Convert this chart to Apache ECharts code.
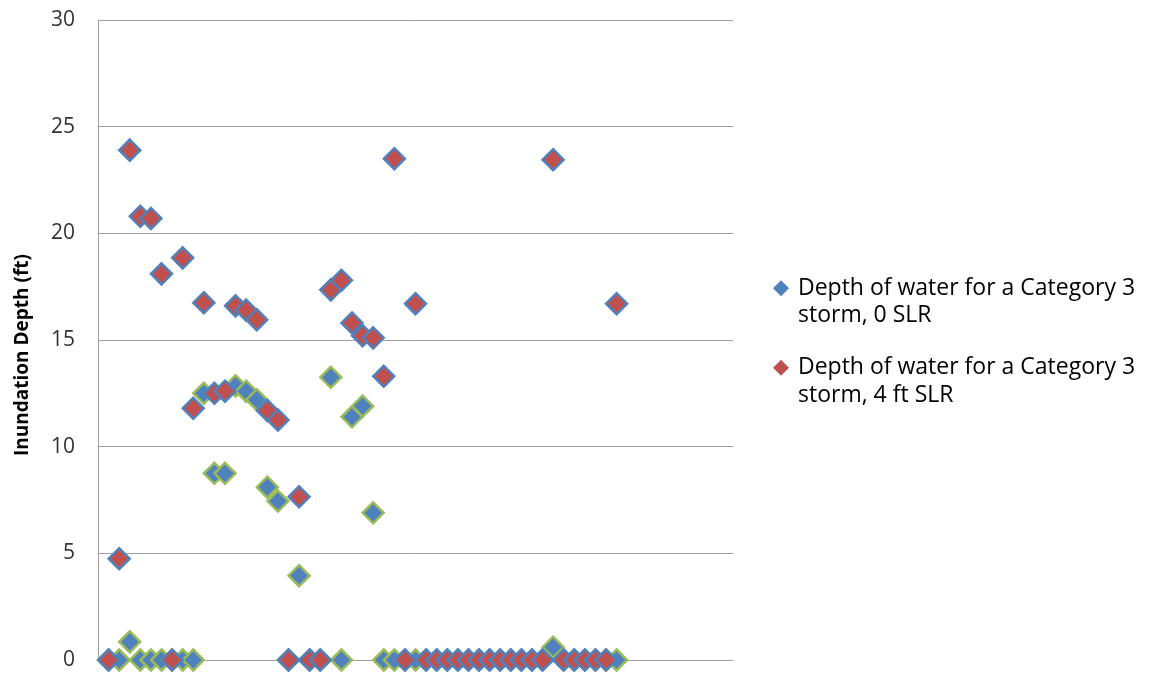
<!DOCTYPE html>
<html>
<head>
<meta charset="utf-8">
<script src="https://cdn.jsdelivr.net/npm/echarts@6/dist/echarts.min.js"></script>
<style>
  html, body { margin: 0; padding: 0; background: #ffffff; }
  #chart { width: 1149px; height: 674px; }
</style>
</head>
<body>
<div id="chart"></div>
<script>
// Site number along the shoreline (x) and inundation depth in feet (y)
const pointIndex = [
  1, 2, 3, 4, 5, 6, 7, 8, 9, 10,
  11, 12, 13, 14, 15, 16, 17, 18, 19, 20,
  21, 22, 23, 24, 25, 26, 27, 28, 29, 30,
  31, 32, 33, 34, 35, 36, 37, 38, 39, 40,
  41, 42, 43, 44, 45, 46, 47, 48, 49
];

// Category 3 storm, present sea level
const depthNoSLR = [
  0, 0, 0.85, 0, 0, 0, 0, 0, 0, 12.5,
  8.75, 8.75, 12.85, 12.6, 12.2, 8.1, 7.45, 0, 3.95, 0,
  0, 13.25, 0, 11.4, 11.9, 6.9, 0, 0, 0, 0,
  0, 0, 0, 0, 0, 0, 0, 0, 0, 0,
  0, 0, 0.6, 0, 0, 0, 0, 0, 0
];

// Category 3 storm with 4 ft of sea level rise
const depth4ftSLR = [
  0, 4.75, 23.9, 20.8, 20.7, 18.1, 0, 18.85, 11.8, 16.75,
  12.5, 12.6, 16.6, 16.4, 15.95, 11.7, 11.25, 0, 7.65, 0,
  0, 17.35, 17.8, 15.8, 15.2, 15.1, 13.3, 23.5, 0, 16.7,
  0, 0, 0, 0, 0, 0, 0, 0, 0, 0,
  0, 0, 23.45, 0, 0, 0, 0, 0, 16.7
];

const yTicks = { min: 0, max: 30, interval: 5 };

const seriesNames = [
  'Depth of water for a Category 3\nstorm, 0 SLR',
  'Depth of water for a Category 3\nstorm, 4 ft SLR'
];

const axisTitle = 'Inundation Depth (ft)';

const toPairs = (xs, ys) => xs.map((x, i) => [x, ys[i]]);

const FONT = '"Open Sans", "Liberation Sans", sans-serif';

const chart = echarts.init(document.getElementById('chart'), null, { renderer: 'canvas' });

chart.setOption({
  animation: false,
  backgroundColor: '#ffffff',
  textStyle: { fontFamily: FONT },
  grid: { left: 98, top: 20, right: 416, bottom: 14, containLabel: false },
  xAxis: {
    type: 'value',
    min: 0,
    max: 60,
    axisLine: { show: true, lineStyle: { color: '#a0a0a0', width: 1 } },
    axisTick: { show: false },
    axisLabel: { show: false },
    splitLine: { show: false }
  },
  yAxis: {
    type: 'value',
    min: yTicks.min,
    max: yTicks.max,
    interval: yTicks.interval,
    name: axisTitle,
    nameLocation: 'middle',
    nameRotate: 90,
    nameGap: 66,
    nameTextStyle: {
      fontFamily: FONT,
      fontSize: 19,
      fontWeight: 'bold',
      color: '#000000',
      padding: [0, 30, 0, 0]
    },
    axisLine: { show: true, lineStyle: { color: '#a0a0a0', width: 1 } },
    axisTick: { show: false },
    axisLabel: { fontFamily: FONT, fontSize: 21, color: '#333333', margin: 23 },
    splitLine: { show: true, lineStyle: { color: '#a0a0a0', width: 1 } }
  },
  legend: {
    orient: 'vertical',
    left: 773,
    top: 247,
    padding: 0,
    itemGap: -3,
    icon: 'diamond',
    itemWidth: 16,
    itemHeight: 16,
    itemStyle: { borderWidth: 0 },
    // a blank first line keeps the marker level with the first line of each label
    formatter: name => '\n' + name,
    textStyle: {
      fontFamily: FONT,
      fontSize: 23,
      color: '#000000',
      lineHeight: 27.5,
      padding: [0, 0, 0, 4]
    },
    data: seriesNames
  },
  series: [
    {
      name: seriesNames[0],
      type: 'scatter',
      symbol: 'diamond',
      symbolSize: 21,
      itemStyle: { color: '#4F81BD', borderColor: '#9BBB59', borderWidth: 2.5, opacity: 1 },
      data: toPairs(pointIndex, depthNoSLR)
    },
    {
      name: seriesNames[1],
      type: 'scatter',
      symbol: 'diamond',
      symbolSize: 21,
      itemStyle: { color: '#C0504D', borderColor: '#4F81BD', borderWidth: 2.5, opacity: 1 },
      data: toPairs(pointIndex, depth4ftSLR)
    }
  ]
});
</script>
</body>
</html>
